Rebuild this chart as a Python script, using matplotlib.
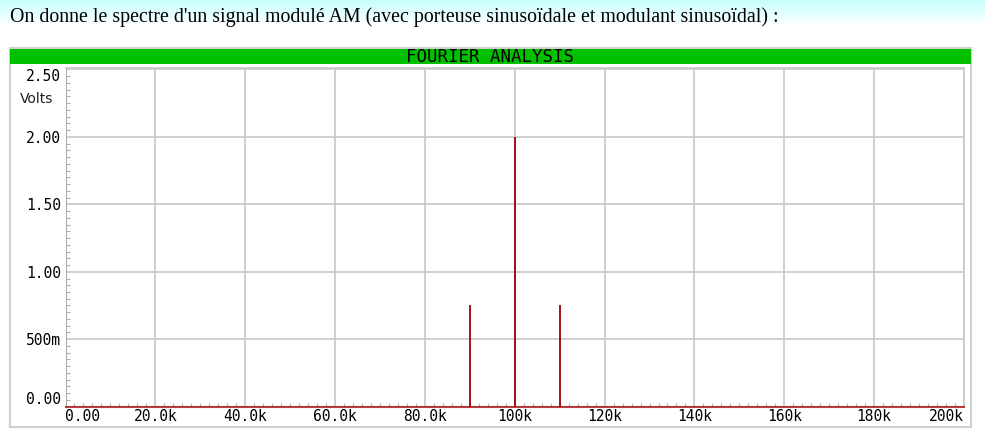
import numpy as np
import matplotlib
matplotlib.use("Agg")
import matplotlib.pyplot as plt
from matplotlib.patches import Rectangle

# spectrum lines (Hz, Volts)
freqs = [90e3, 100e3, 110e3]
amps = [0.75, 2.0, 0.75]

x_ticks = [0, 20e3, 40e3, 60e3, 80e3, 100e3, 120e3, 140e3, 160e3, 180e3, 200e3]
x_labels = ["0.00", "20.0k", "40.0k", "60.0k", "80.0k", "100k", "120k", "140k", "160k", "180k", "200k"]
y_ticks = [0, 0.5, 1.0, 1.5, 2.0, 2.5]
y_labels = ["0.00", "500m", "1.00", "1.50", "2.00", "2.50"]

caption = "On donne le spectre d'un signal modulé AM (avec porteuse sinusoïdale et modulant sinusoïdal) :"

W, H = 985, 447
RED = "#a00000"
GRID = "#c8c8c8"
MONO = "DejaVu Sans Mono"

fig = plt.figure(figsize=(W / 100, H / 100), dpi=100)
fig.patch.set_facecolor("white")


def fx(px):
    return px / W


def fy(py):
    return 1 - py / H


# page background with the light cyan fade at the top
bg = fig.add_axes([0, 0, 1, 1], zorder=-5)
bg.set_xlim(0, W)
bg.set_ylim(H, 0)
bg.axis("off")
fade = np.linspace(0, 1, 100)
img = np.ones((100, 1, 3))
img[:, 0, 0] = 0.78 + 0.22 * fade
bg.imshow(img, extent=(0, W, 26, 0), aspect="auto", interpolation="bilinear")

# panel frame and green title bar
bg.add_patch(Rectangle((10, 48), 961, 379, facecolor="white", edgecolor="#d0d0d0", lw=1.5))
bg.add_patch(Rectangle((10, 49), 961, 14.5, facecolor="#00c000", edgecolor="none"))
bg.text(490.5, 56.5, "FOURIER ANALYSIS", family=MONO, fontsize=12.5, color="black",
        ha="center", va="center")
bg.text(10, 17, caption, family="Liberation Serif", fontsize=14.3, color="black",
        ha="left", va="center")

# plot area
ax = fig.add_axes([fx(65.5), fy(406.7), fx(964 - 65.5), (406.7 - 68) / H])
ax.set_xlim(0, 200e3)
ax.set_ylim(0, 2.51)

ax.vlines(freqs, 0, amps, color=RED, lw=1.3, zorder=3)
ax.axhline(0, color=RED, lw=1.5, alpha=0.75, zorder=3, clip_on=False)

ax.set_xticks(x_ticks)
ax.set_xticklabels(x_labels, family=MONO, fontsize=10.5)
ax.set_yticks(y_ticks)
ax.set_yticklabels(y_labels, family=MONO, fontsize=10.5)
labels = ax.get_xticklabels()
labels[0].set_ha("left")
labels[-1].set_ha("right")
ylabs = ax.get_yticklabels()
ylabs[0].set_va("bottom")
ylabs[-1].set_va("top")

ax.set_xticks(np.arange(0, 200001, 2e3), minor=True)
ax.set_yticks(np.arange(0, 2.51, 0.05), minor=True)
ax.tick_params(which="major", length=0, pad=3)
ax.tick_params(axis="x", which="major", pad=1.5)
ax.tick_params(which="minor", direction="in", length=3, color="#b0b0b0", width=0.8)

ax.grid(True, which="major", color=GRID, lw=1.2)
ax.set_axisbelow(True)
for side in ["top", "right"]:
    ax.spines[side].set_color(GRID)
    ax.spines[side].set_linewidth(1.2)
ax.spines["left"].set_color("#b0b0b0")
ax.spines["bottom"].set_visible(False)

bg.text(20, 99, "Volts", fontsize=10, color="#202020", ha="left", va="center")
bg.text(955, 384, "hertz", fontsize=10, color="#202020", ha="right", va="center")

fig.savefig("out.png", dpi=100)
